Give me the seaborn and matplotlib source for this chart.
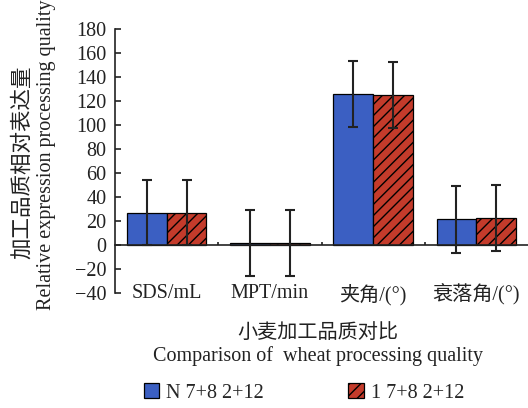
import matplotlib
matplotlib.use("Agg")
import matplotlib.pyplot as plt
import seaborn as sns
import pandas as pd
from matplotlib.ticker import FixedLocator

categories = ["SDS/mL", "MPT/min", "夹角/(°)", "衰落角/(°)"]
groups = ["N 7+8 2+12", "1 7+8 2+12"]
values_n = [27, 2, 126, 21.5]
errors_n = [27, 27.5, 27.5, 28]
values_1 = [27, 2, 125, 22.5]
errors_1 = [27, 27.5, 27.5, 27.5]

colors = ["#3b5fc2", "#c43b2b"]

sns.set_style("ticks")
plt.rcParams["font.family"] = ["Liberation Serif", "Noto Sans CJK SC"]
plt.rcParams["hatch.linewidth"] = 1.0
plt.rcParams["axes.unicode_minus"] = True

df = pd.DataFrame({
    "cat": categories * 2,
    "grp": [groups[0]] * 4 + [groups[1]] * 4,
    "val": values_n + values_1,
})

fig = plt.figure(figsize=(5.28, 4.08), dpi=100)
ax = fig.add_axes([115 / 528, 1 - 293 / 408, 1 - 115 / 528, (293 - 29) / 408])

sns.barplot(data=df, x="cat", y="val", hue="grp", order=categories, hue_order=groups,
            palette=colors, width=0.77, errorbar=None, edgecolor="black", linewidth=0.9,
            saturation=1, ax=ax, legend=False)

for p in ax.containers[1]:
    p.set_hatch("///")

for cont, errs in zip(ax.containers, [errors_n, errors_1]):
    xs = [p.get_x() + p.get_width() / 2 for p in cont]
    ys = [p.get_height() for p in cont]
    ax.errorbar(xs, ys, yerr=errs, fmt="none", ecolor="#222222", elinewidth=1.5,
                capsize=3.8, capthick=1.5, zorder=5)

ax.set_xlim(-0.5, 3.5)
ax.set_ylim(-40, 180)
ax.set_yticks(range(-40, 181, 20))
ax.set_yticklabels(["−40", "−20", "0", "20", "40", "60", "80", "100", "120", "140", "160", "180"])
ax.set_xlabel("")
ax.set_ylabel("")

for s in ["top", "right"]:
    ax.spines[s].set_visible(False)
ax.spines["bottom"].set_position(("data", 0))
ax.spines["left"].set_linewidth(1.2)
ax.spines["bottom"].set_linewidth(1.2)
ax.spines["left"].set_color("#222222")
ax.spines["bottom"].set_color("#222222")

ax.tick_params(axis="y", direction="in", length=4, width=1.2, pad=6, labelsize=14.5, colors="#222222")
ax.tick_params(axis="x", which="major", length=0, pad=28, labelsize=14.5, colors="#222222")
ax.xaxis.set_minor_locator(FixedLocator([0.5, 1.5, 2.5]))
ax.tick_params(axis="x", which="minor", direction="in", length=2.5, width=1.2, colors="#222222")

fig.text(22 / 528, 1 - 162 / 408, "加工品质相对表达量", rotation=90, ha="center", va="center",
         fontsize=15.5, family=["Noto Sans CJK SC"], color="#222222")
fig.text(47 / 528, 1 - 155 / 408, "Relative expression processing quality", rotation=90,
         ha="center", va="center", fontsize=14.5, color="#222222")

fig.text(318 / 528, 1 - 332 / 408, "小麦加工品质对比", ha="center", va="center",
         fontsize=14.5, family=["Noto Sans CJK SC"], color="#222222")
fig.text(318 / 528, 1 - 356 / 408, "Comparison of  wheat processing quality", ha="center",
         va="center", fontsize=14.5, color="#222222")

fig.legend(handles=list(ax.containers[:2]), labels=groups, loc="center",
           bbox_to_anchor=(304 / 528, 1 - 393 / 408), ncol=2, frameon=False,
           handlelength=0.75, handleheight=0.75, handletextpad=0.35, columnspacing=4.2,
           fontsize=14.5)

fig.savefig("out.png", dpi=100)
